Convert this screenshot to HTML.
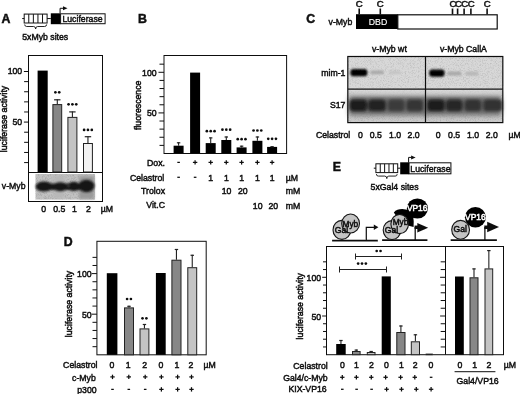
<!DOCTYPE html>
<html><head><meta charset="utf-8"><style>
html,body{margin:0;padding:0;background:#fff;}
svg{display:block;font-family:"Liberation Sans",sans-serif;}
</style></head><body>
<svg width="520" height="394" viewBox="0 0 520 394">
<defs>
<filter id="noise" x="0" y="0" width="100%" height="100%">
<feTurbulence type="fractalNoise" baseFrequency="1.6" numOctaves="1" seed="3" result="t"/>
<feColorMatrix in="t" type="matrix" values="0 0 0 0 0  0 0 0 0 0  0 0 0 0 0  0 0 0 -0.8 0.45" result="n"/>
<feComposite in="n" in2="SourceGraphic" operator="in" result="m"/>
<feMerge><feMergeNode in="SourceGraphic"/><feMergeNode in="m"/></feMerge>
</filter>
<filter id="noise2" x="0" y="0" width="100%" height="100%">
<feTurbulence type="fractalNoise" baseFrequency="1.4" numOctaves="1" seed="7" result="t"/>
<feColorMatrix in="t" type="matrix" values="0 0 0 0 0  0 0 0 0 0  0 0 0 0 0  0 0 0 -0.7 0.38" result="n"/>
<feComposite in="n" in2="SourceGraphic" operator="in" result="m"/>
<feMerge><feMergeNode in="SourceGraphic"/><feMergeNode in="m"/></feMerge>
</filter>
<filter id="soft" x="0" y="0" width="100%" height="100%" filterUnits="userSpaceOnUse"><feGaussianBlur stdDeviation="0.3"/></filter>
<filter id="blur08" x="-20%" y="-50%" width="140%" height="200%"><feGaussianBlur stdDeviation="0.8"/></filter>
<filter id="blur13" x="-20%" y="-50%" width="140%" height="200%"><feGaussianBlur stdDeviation="1.4"/></filter>
<filter id="blur1" x="-20%" y="-50%" width="140%" height="200%"><feGaussianBlur stdDeviation="1.2"/></filter>
<filter id="blur2" x="-20%" y="-50%" width="140%" height="200%"><feGaussianBlur stdDeviation="1.6"/></filter>
<filter id="blur3" x="-10%" y="-50%" width="120%" height="200%"><feGaussianBlur stdDeviation="2.5"/></filter>
</defs>
<rect width="520" height="394" fill="#fff"/>
<g filter="url(#soft)">
<text x="1.6" y="23.4" font-size="12.3" font-weight="bold" fill="#111" stroke="#111" stroke-width="0.5">A</text>
<line x1="22.2" y1="18.55" x2="50.8" y2="18.55" stroke="#111" stroke-width="1"/>
<rect x="24.2" y="14.1" width="22.900000000000002" height="8.9" fill="#fff" stroke="#111" stroke-width="1"/>
<line x1="28.78" y1="14.1" x2="28.78" y2="23.0" stroke="#111" stroke-width="1"/>
<line x1="33.36" y1="14.1" x2="33.36" y2="23.0" stroke="#111" stroke-width="1"/>
<line x1="37.94" y1="14.1" x2="37.94" y2="23.0" stroke="#111" stroke-width="1"/>
<line x1="42.519999999999996" y1="14.1" x2="42.519999999999996" y2="23.0" stroke="#111" stroke-width="1"/>
<rect x="50.8" y="13.3" width="9.800000000000004" height="10.899999999999999" fill="#000"/>
<rect x="60.6" y="13.8" width="44.49999999999999" height="9.899999999999999" fill="#fff" stroke="#111" stroke-width="1"/>
<path d="M60.1,13.3 V8.3 H63.5" fill="none" stroke="#111" stroke-width="1"/>
<path d="M63.0,6.300000000000001 L67.5,8.3 L63.0,10.3 Z" fill="#111"/>
<path d="M24.7,24.5 q0,2 2,2 H33.65 q2,0 2,2.5 q0,-2.5 2,-2.5 H44.6 q2,0 2,-2" fill="none" stroke="#111" stroke-width="0.9"/>
<text transform="translate(62.4,21.8) scale(0.91,1)" font-size="9.6" fill="#111" stroke="#111" stroke-width="0.5">Luciferase</text>
<text transform="translate(22.2,40.1) scale(0.91,1)" font-size="9.6" fill="#111" stroke="#111" stroke-width="0.5">5xMyb sites</text>
<rect x="28.5" y="55.5" width="74.0" height="146.0" fill="none" stroke="#111" stroke-width="1"/>
<line x1="28.5" y1="172.5" x2="102.5" y2="172.5" stroke="#111" stroke-width="1"/>
<line x1="24.1" y1="162.57999999999998" x2="28.5" y2="162.57999999999998" stroke="#111" stroke-width="1"/>
<line x1="24.1" y1="152.45999999999998" x2="28.5" y2="152.45999999999998" stroke="#111" stroke-width="1"/>
<line x1="24.1" y1="142.33999999999997" x2="28.5" y2="142.33999999999997" stroke="#111" stroke-width="1"/>
<line x1="24.1" y1="132.22" x2="28.5" y2="132.22" stroke="#111" stroke-width="1"/>
<line x1="23.9" y1="122.1" x2="28.5" y2="122.1" stroke="#111" stroke-width="1"/>
<line x1="24.1" y1="111.97999999999999" x2="28.5" y2="111.97999999999999" stroke="#111" stroke-width="1"/>
<line x1="24.1" y1="101.86" x2="28.5" y2="101.86" stroke="#111" stroke-width="1"/>
<line x1="24.1" y1="91.74" x2="28.5" y2="91.74" stroke="#111" stroke-width="1"/>
<line x1="24.1" y1="81.61999999999999" x2="28.5" y2="81.61999999999999" stroke="#111" stroke-width="1"/>
<line x1="23.9" y1="71.5" x2="28.5" y2="71.5" stroke="#111" stroke-width="1"/>
<text transform="translate(22.2,74.1) scale(0.91,1)" font-size="9.6" text-anchor="end" fill="#111" stroke="#111" stroke-width="0.5">100</text>
<text transform="translate(22.2,125.1) scale(0.91,1)" font-size="9.6" text-anchor="end" fill="#111" stroke="#111" stroke-width="0.5">50</text>
<text transform="translate(7.3,119) rotate(-90) scale(0.91,1)" text-anchor="middle" font-size="9.6" fill="#111" stroke="#111" stroke-width="0.5">luciferase activity</text>
<rect x="37.6" y="70.6" width="10.100000000000001" height="101.4" fill="#000"/>
<rect x="52.9" y="104.6" width="8.800000000000004" height="67.4" fill="#878787" stroke="#222" stroke-width="1"/>
<line x1="57.3" y1="104.1" x2="57.3" y2="99.3" stroke="#222" stroke-width="1.1"/>
<line x1="54.099999999999994" y1="99.8" x2="60.5" y2="99.8" stroke="#222" stroke-width="1.2"/>
<circle cx="55.38" cy="92.3" r="1.35" fill="#111"/>
<circle cx="59.22" cy="92.3" r="1.35" fill="#111"/>
<rect x="67.9" y="117.4" width="9.0" height="54.599999999999994" fill="#c4c4c4" stroke="#222" stroke-width="1"/>
<line x1="72.4" y1="116.9" x2="72.4" y2="111.4" stroke="#222" stroke-width="1.1"/>
<line x1="69.2" y1="111.9" x2="75.60000000000001" y2="111.9" stroke="#222" stroke-width="1.2"/>
<circle cx="68.55" cy="104.3" r="1.35" fill="#111"/>
<circle cx="72.40" cy="104.3" r="1.35" fill="#111"/>
<circle cx="76.25" cy="104.3" r="1.35" fill="#111"/>
<rect x="83.5" y="143.5" width="8.900000000000006" height="28.5" fill="#f2f2f2" stroke="#222" stroke-width="1"/>
<line x1="87.95" y1="143.0" x2="87.95" y2="136.2" stroke="#222" stroke-width="1.1"/>
<line x1="84.75" y1="136.7" x2="91.15" y2="136.7" stroke="#222" stroke-width="1.2"/>
<circle cx="84.10" cy="129.9" r="1.35" fill="#111"/>
<circle cx="87.95" cy="129.9" r="1.35" fill="#111"/>
<circle cx="91.80" cy="129.9" r="1.35" fill="#111"/>
<rect x="35.5" y="174.0" width="59.5" height="25.6" fill="#c2c2c2" filter="url(#noise)"/>
<g filter="url(#blur2)"><rect x="79" y="176" width="15" height="23" fill="#9a9a9a"/><rect x="54" y="176" width="10" height="22" fill="#b8b8b8"/></g>
<g filter="url(#blur08)"><rect x="37" y="183.4" width="56" height="6.6" rx="2" fill="#161616"/><ellipse cx="44" cy="186.6" rx="8.4" ry="5" fill="#161616"/><ellipse cx="60.2" cy="186.7" rx="7" ry="4.5" fill="#161616"/><ellipse cx="73.8" cy="186.4" rx="6.6" ry="4.6" fill="#161616"/><ellipse cx="86.5" cy="186.0" rx="8" ry="6.2" fill="#161616"/></g>
<ellipse cx="68.4" cy="186" rx="1.3" ry="1" fill="#555" filter="url(#blur08)"/>
<text transform="translate(1.8,188.6) scale(0.91,1)" font-size="9.6" fill="#111" stroke="#111" stroke-width="0.5">v-Myb</text>
<text transform="translate(43.7,212.2) scale(0.91,1)" font-size="9.6" text-anchor="middle" fill="#111" stroke="#111" stroke-width="0.5">0</text>
<text transform="translate(59.3,212.2) scale(0.91,1)" font-size="9.6" text-anchor="middle" fill="#111" stroke="#111" stroke-width="0.5">0.5</text>
<text transform="translate(74.5,212.2) scale(0.91,1)" font-size="9.6" text-anchor="middle" fill="#111" stroke="#111" stroke-width="0.5">1</text>
<text transform="translate(88.5,212.2) scale(0.91,1)" font-size="9.6" text-anchor="middle" fill="#111" stroke="#111" stroke-width="0.5">2</text>
<text transform="translate(100.8,212.2) scale(0.91,1)" font-size="9.6" fill="#111" stroke="#111" stroke-width="0.5">µM</text>
<text x="137.9" y="23.4" font-size="12.3" font-weight="bold" fill="#111" stroke="#111" stroke-width="0.5">B</text>
<rect x="164" y="55.5" width="122.6" height="98.0" fill="none" stroke="#111" stroke-width="1"/>
<line x1="159.5" y1="145.38" x2="164" y2="145.38" stroke="#111" stroke-width="1"/>
<line x1="159.5" y1="137.26" x2="164" y2="137.26" stroke="#111" stroke-width="1"/>
<line x1="159.5" y1="129.14" x2="164" y2="129.14" stroke="#111" stroke-width="1"/>
<line x1="159.5" y1="121.02000000000001" x2="164" y2="121.02000000000001" stroke="#111" stroke-width="1"/>
<line x1="158.5" y1="112.9" x2="164" y2="112.9" stroke="#111" stroke-width="1"/>
<line x1="159.5" y1="104.78" x2="164" y2="104.78" stroke="#111" stroke-width="1"/>
<line x1="159.5" y1="96.66" x2="164" y2="96.66" stroke="#111" stroke-width="1"/>
<line x1="159.5" y1="88.54" x2="164" y2="88.54" stroke="#111" stroke-width="1"/>
<line x1="159.5" y1="80.42" x2="164" y2="80.42" stroke="#111" stroke-width="1"/>
<line x1="158.5" y1="72.30000000000001" x2="164" y2="72.30000000000001" stroke="#111" stroke-width="1"/>
<line x1="159.5" y1="64.18" x2="164" y2="64.18" stroke="#111" stroke-width="1"/>
<text transform="translate(156.6,75.8) scale(0.91,1)" font-size="9.6" text-anchor="end" fill="#111" stroke="#111" stroke-width="0.5">100</text>
<text transform="translate(156.6,116.4) scale(0.91,1)" font-size="9.6" text-anchor="end" fill="#111" stroke="#111" stroke-width="0.5">50</text>
<text transform="translate(140.6,105.3) rotate(-90) scale(0.91,1)" text-anchor="middle" font-size="9.6" fill="#111" stroke="#111" stroke-width="0.5">fluorescence</text>
<rect x="173.6" y="145.7" width="10.0" height="7.800000000000011" fill="#000"/>
<line x1="178.6" y1="145.7" x2="178.6" y2="142.3" stroke="#222" stroke-width="1.1"/>
<line x1="176.9" y1="142.8" x2="180.29999999999998" y2="142.8" stroke="#222" stroke-width="1.2"/>
<rect x="190.1" y="72.6" width="10.0" height="80.9" fill="#000"/>
<rect x="205.7" y="143.1" width="10.0" height="10.400000000000006" fill="#000"/>
<line x1="210.7" y1="143.1" x2="210.7" y2="137.4" stroke="#222" stroke-width="1.1"/>
<line x1="209.0" y1="137.9" x2="212.39999999999998" y2="137.9" stroke="#222" stroke-width="1.2"/>
<circle cx="206.85" cy="131.2" r="1.35" fill="#111"/>
<circle cx="210.70" cy="131.2" r="1.35" fill="#111"/>
<circle cx="214.55" cy="131.2" r="1.35" fill="#111"/>
<rect x="221.3" y="140.0" width="10.0" height="13.5" fill="#000"/>
<line x1="226.3" y1="140.0" x2="226.3" y2="136.5" stroke="#222" stroke-width="1.1"/>
<line x1="224.60000000000002" y1="137.0" x2="228.0" y2="137.0" stroke="#222" stroke-width="1.2"/>
<circle cx="222.45" cy="129.7" r="1.35" fill="#111"/>
<circle cx="226.30" cy="129.7" r="1.35" fill="#111"/>
<circle cx="230.15" cy="129.7" r="1.35" fill="#111"/>
<rect x="236.6" y="147.4" width="10.0" height="6.099999999999994" fill="#000"/>
<line x1="241.6" y1="147.4" x2="241.6" y2="145.7" stroke="#222" stroke-width="1.1"/>
<line x1="239.9" y1="146.2" x2="243.29999999999998" y2="146.2" stroke="#222" stroke-width="1.2"/>
<circle cx="237.75" cy="139.2" r="1.35" fill="#111"/>
<circle cx="241.60" cy="139.2" r="1.35" fill="#111"/>
<circle cx="245.45" cy="139.2" r="1.35" fill="#111"/>
<rect x="252.39999999999998" y="140.8" width="10.0" height="12.699999999999989" fill="#000"/>
<line x1="257.4" y1="140.8" x2="257.4" y2="136.5" stroke="#222" stroke-width="1.1"/>
<line x1="255.7" y1="137.0" x2="259.09999999999997" y2="137.0" stroke="#222" stroke-width="1.2"/>
<circle cx="253.55" cy="130.5" r="1.35" fill="#111"/>
<circle cx="257.40" cy="130.5" r="1.35" fill="#111"/>
<circle cx="261.25" cy="130.5" r="1.35" fill="#111"/>
<rect x="267.1" y="146.9" width="10.0" height="6.599999999999994" fill="#000"/>
<line x1="272.1" y1="146.9" x2="272.1" y2="146.2" stroke="#222" stroke-width="1.1"/>
<line x1="270.40000000000003" y1="146.7" x2="273.8" y2="146.7" stroke="#222" stroke-width="1.2"/>
<circle cx="268.25" cy="138.8" r="1.35" fill="#111"/>
<circle cx="272.10" cy="138.8" r="1.35" fill="#111"/>
<circle cx="275.95" cy="138.8" r="1.35" fill="#111"/>
<text transform="translate(165,165.6) scale(0.91,1)" font-size="9.6" text-anchor="end" fill="#111" stroke="#111" stroke-width="0.5">Dox.</text>
<text transform="translate(164.3,180.6) scale(0.91,1)" font-size="9.6" text-anchor="end" fill="#111" stroke="#111" stroke-width="0.5">Celastrol</text>
<text transform="translate(165,193.8) scale(0.91,1)" font-size="9.6" text-anchor="end" fill="#111" stroke="#111" stroke-width="0.5">Trolox</text>
<text transform="translate(165,208.2) scale(0.91,1)" font-size="9.6" text-anchor="end" fill="#111" stroke="#111" stroke-width="0.5">Vit.C</text>
<line x1="177.29999999999998" y1="162.4" x2="179.9" y2="162.4" stroke="#111" stroke-width="1.25"/>
<line x1="192.9" y1="162.4" x2="197.29999999999998" y2="162.4" stroke="#111" stroke-width="1.25"/>
<line x1="195.1" y1="160.20000000000002" x2="195.1" y2="164.6" stroke="#111" stroke-width="1.25"/>
<line x1="208.5" y1="162.4" x2="212.89999999999998" y2="162.4" stroke="#111" stroke-width="1.25"/>
<line x1="210.7" y1="160.20000000000002" x2="210.7" y2="164.6" stroke="#111" stroke-width="1.25"/>
<line x1="224.10000000000002" y1="162.4" x2="228.5" y2="162.4" stroke="#111" stroke-width="1.25"/>
<line x1="226.3" y1="160.20000000000002" x2="226.3" y2="164.6" stroke="#111" stroke-width="1.25"/>
<line x1="239.4" y1="162.4" x2="243.79999999999998" y2="162.4" stroke="#111" stroke-width="1.25"/>
<line x1="241.6" y1="160.20000000000002" x2="241.6" y2="164.6" stroke="#111" stroke-width="1.25"/>
<line x1="255.2" y1="162.4" x2="259.59999999999997" y2="162.4" stroke="#111" stroke-width="1.25"/>
<line x1="257.4" y1="160.20000000000002" x2="257.4" y2="164.6" stroke="#111" stroke-width="1.25"/>
<line x1="269.90000000000003" y1="162.4" x2="274.3" y2="162.4" stroke="#111" stroke-width="1.25"/>
<line x1="272.1" y1="160.20000000000002" x2="272.1" y2="164.6" stroke="#111" stroke-width="1.25"/>
<line x1="177.29999999999998" y1="177.3" x2="179.9" y2="177.3" stroke="#111" stroke-width="1.25"/>
<line x1="193.79999999999998" y1="177.3" x2="196.4" y2="177.3" stroke="#111" stroke-width="1.25"/>
<text transform="translate(210.7,180.6) scale(0.91,1)" font-size="9.6" text-anchor="middle" fill="#111" stroke="#111" stroke-width="0.5">1</text>
<text transform="translate(226.3,180.6) scale(0.91,1)" font-size="9.6" text-anchor="middle" fill="#111" stroke="#111" stroke-width="0.5">1</text>
<text transform="translate(241.6,180.6) scale(0.91,1)" font-size="9.6" text-anchor="middle" fill="#111" stroke="#111" stroke-width="0.5">1</text>
<text transform="translate(257.4,180.6) scale(0.91,1)" font-size="9.6" text-anchor="middle" fill="#111" stroke="#111" stroke-width="0.5">1</text>
<text transform="translate(272.1,180.6) scale(0.91,1)" font-size="9.6" text-anchor="middle" fill="#111" stroke="#111" stroke-width="0.5">1</text>
<text transform="translate(285.7,180.6) scale(0.91,1)" font-size="9.6" fill="#111" stroke="#111" stroke-width="0.5">µM</text>
<text transform="translate(226.60000000000002,194.4) scale(0.91,1)" font-size="9.6" text-anchor="middle" fill="#111" stroke="#111" stroke-width="0.5">10</text>
<text transform="translate(242.79999999999998,194.4) scale(0.91,1)" font-size="9.6" text-anchor="middle" fill="#111" stroke="#111" stroke-width="0.5">20</text>
<text transform="translate(285.7,194.4) scale(0.91,1)" font-size="9.6" fill="#111" stroke="#111" stroke-width="0.5">mM</text>
<text transform="translate(257.7,208.8) scale(0.91,1)" font-size="9.6" text-anchor="middle" fill="#111" stroke="#111" stroke-width="0.5">10</text>
<text transform="translate(273.3,208.8) scale(0.91,1)" font-size="9.6" text-anchor="middle" fill="#111" stroke="#111" stroke-width="0.5">20</text>
<text transform="translate(285.7,208.8) scale(0.91,1)" font-size="9.6" fill="#111" stroke="#111" stroke-width="0.5">mM</text>
<text x="306.3" y="23.4" font-size="12.3" font-weight="bold" fill="#111" stroke="#111" stroke-width="0.5">C</text>
<text transform="translate(328.6,25.2) scale(0.91,1)" font-size="9.6" fill="#111" stroke="#111" stroke-width="0.5">v-Myb</text>
<rect x="356" y="14.2" width="42" height="14.8" fill="#000"/>
<rect x="397.8" y="14.8" width="99.4" height="14.2" fill="#fff" stroke="#111" stroke-width="1.2"/>
<text transform="translate(378,25.4) scale(0.91,1)" font-size="9.6" text-anchor="middle" fill="#fff" stroke="#fff" stroke-width="0.15">DBD</text>
<line x1="359.2" y1="8.5" x2="359.2" y2="14.4" stroke="#111" stroke-width="1.6"/>
<line x1="380.3" y1="8.5" x2="380.3" y2="14.4" stroke="#111" stroke-width="1.6"/>
<line x1="452.5" y1="8.5" x2="452.5" y2="14.4" stroke="#111" stroke-width="1.6"/>
<line x1="457.6" y1="8.5" x2="457.6" y2="14.4" stroke="#111" stroke-width="1.6"/>
<line x1="464.1" y1="8.5" x2="464.1" y2="14.4" stroke="#111" stroke-width="1.6"/>
<line x1="470.9" y1="8.5" x2="470.9" y2="14.4" stroke="#111" stroke-width="1.6"/>
<line x1="487.1" y1="8.5" x2="487.1" y2="14.4" stroke="#111" stroke-width="1.6"/>
<text x="359.2" y="6.8" font-size="9.6" text-anchor="middle" fill="#111" stroke="#111" stroke-width="0.5">C</text>
<text x="380.3" y="6.8" font-size="9.6" text-anchor="middle" fill="#111" stroke="#111" stroke-width="0.5">C</text>
<text x="452.9" y="6.8" font-size="9.6" text-anchor="middle" fill="#111" stroke="#111" stroke-width="0.5">C</text>
<text x="458.5" y="6.8" font-size="9.6" text-anchor="middle" fill="#111" stroke="#111" stroke-width="0.5">C</text>
<text x="464.8" y="6.8" font-size="9.6" text-anchor="middle" fill="#111" stroke="#111" stroke-width="0.5">C</text>
<text x="471.3" y="6.8" font-size="9.6" text-anchor="middle" fill="#111" stroke="#111" stroke-width="0.5">C</text>
<text x="487.1" y="6.8" font-size="9.6" text-anchor="middle" fill="#111" stroke="#111" stroke-width="0.5">C</text>
<text transform="translate(389.4,52.2) scale(0.91,1)" font-size="9.6" text-anchor="middle" fill="#111" stroke="#111" stroke-width="0.5">v-Myb wt</text>
<text transform="translate(463.4,51.5) scale(0.91,1)" font-size="9.6" text-anchor="middle" fill="#111" stroke="#111" stroke-width="0.5">v-Myb CallA</text>
<rect x="347.8" y="56.5" width="155" height="32.8" fill="#d8d8d8" filter="url(#noise2)"/>
<rect x="347.8" y="90.2" width="155" height="32.6" fill="#cbcbcb" filter="url(#noise2)"/>
<g filter="url(#blur1)"><rect x="350.4" y="68.9" width="17" height="7.4" rx="3" fill="#050505"/><rect x="370" y="70.6" width="14" height="3.6" rx="1.8" fill="#a8a8a8"/><rect x="389" y="71" width="12" height="3" rx="1.5" fill="#c2c2c2"/><rect x="429.2" y="69.6" width="15.4" height="7.2" rx="3" fill="#050505"/><rect x="447" y="71.6" width="14.6" height="4" rx="2" fill="#a8a8a8"/><rect x="465" y="71.8" width="13.6" height="3.6" rx="1.8" fill="#b6b6b6"/></g>
<g filter="url(#blur3)">
<rect x="349" y="95.5" width="152" height="20" fill="#6c6c6c"/>
<rect x="349" y="90.5" width="152" height="3.5" fill="#e2e2e2"/>
</g>
<g filter="url(#blur13)">
<rect x="349.5" y="99.6" width="17.6" height="11.6" rx="3.5" fill="#1c1c1c"/>
<rect x="368.2" y="99.6" width="17.6" height="11.6" rx="3.5" fill="#222"/>
<rect x="387.8" y="99.6" width="16.699999999999967" height="11.6" rx="3.5" fill="#3a3a3a"/>
<rect x="406.4" y="99.6" width="16.700000000000024" height="11.6" rx="3.5" fill="#363636"/>
<rect x="427.2" y="99.6" width="17.6" height="11.6" rx="3.5" fill="#1c1c1c"/>
<rect x="445.9" y="99.6" width="16.700000000000024" height="11.6" rx="3.5" fill="#262626"/>
<rect x="464.5" y="99.6" width="16.79999999999999" height="11.6" rx="3.5" fill="#333"/>
<rect x="483.2" y="99.6" width="19.1" height="11.6" rx="3.5" fill="#333"/>
</g>
<rect x="347.8" y="56.5" width="155" height="66.1" fill="none" stroke="#111" stroke-width="1.2"/>
<line x1="347.8" y1="89.2" x2="502.8" y2="89.2" stroke="#111" stroke-width="1.2"/>
<line x1="425.5" y1="56.5" x2="425.5" y2="122.6" stroke="#111" stroke-width="1.2"/>
<text transform="translate(345.4,76.0) scale(0.91,1)" font-size="9.6" text-anchor="end" fill="#111" stroke="#111" stroke-width="0.5">mim-1</text>
<text transform="translate(345.4,107.8) scale(0.91,1)" font-size="9.6" text-anchor="end" fill="#111" stroke="#111" stroke-width="0.5">S17</text>
<text transform="translate(315.9,137.5) scale(0.91,1)" font-size="9.6" fill="#111" stroke="#111" stroke-width="0.5">Celastrol</text>
<text transform="translate(360.3,137.5) scale(0.91,1)" font-size="9.6" text-anchor="middle" fill="#111" stroke="#111" stroke-width="0.5">0</text>
<text transform="translate(375.8,137.5) scale(0.91,1)" font-size="9.6" text-anchor="middle" fill="#111" stroke="#111" stroke-width="0.5">0.5</text>
<text transform="translate(395.1,137.5) scale(0.91,1)" font-size="9.6" text-anchor="middle" fill="#111" stroke="#111" stroke-width="0.5">1.0</text>
<text transform="translate(413.6,137.5) scale(0.91,1)" font-size="9.6" text-anchor="middle" fill="#111" stroke="#111" stroke-width="0.5">2.0</text>
<text transform="translate(438.2,137.5) scale(0.91,1)" font-size="9.6" text-anchor="middle" fill="#111" stroke="#111" stroke-width="0.5">0</text>
<text transform="translate(454.1,137.5) scale(0.91,1)" font-size="9.6" text-anchor="middle" fill="#111" stroke="#111" stroke-width="0.5">0.5</text>
<text transform="translate(473.1,137.5) scale(0.91,1)" font-size="9.6" text-anchor="middle" fill="#111" stroke="#111" stroke-width="0.5">1.0</text>
<text transform="translate(491.7,137.5) scale(0.91,1)" font-size="9.6" text-anchor="middle" fill="#111" stroke="#111" stroke-width="0.5">2.0</text>
<text transform="translate(508.4,137.5) scale(0.91,1)" font-size="9.6" fill="#111" stroke="#111" stroke-width="0.5">µM</text>
<text x="63.8" y="246.3" font-size="12.3" font-weight="bold" fill="#111" stroke="#111" stroke-width="0.5">D</text>
<rect x="96.9" y="241.3" width="109.3" height="113.5" fill="none" stroke="#111" stroke-width="1"/>
<line x1="92.5" y1="346.68" x2="96.9" y2="346.68" stroke="#111" stroke-width="1"/>
<line x1="92.5" y1="338.56" x2="96.9" y2="338.56" stroke="#111" stroke-width="1"/>
<line x1="92.5" y1="330.44" x2="96.9" y2="330.44" stroke="#111" stroke-width="1"/>
<line x1="92.5" y1="322.32" x2="96.9" y2="322.32" stroke="#111" stroke-width="1"/>
<line x1="91.7" y1="314.20000000000005" x2="96.9" y2="314.20000000000005" stroke="#111" stroke-width="1"/>
<line x1="92.5" y1="306.08000000000004" x2="96.9" y2="306.08000000000004" stroke="#111" stroke-width="1"/>
<line x1="92.5" y1="297.96000000000004" x2="96.9" y2="297.96000000000004" stroke="#111" stroke-width="1"/>
<line x1="92.5" y1="289.84000000000003" x2="96.9" y2="289.84000000000003" stroke="#111" stroke-width="1"/>
<line x1="92.5" y1="281.72" x2="96.9" y2="281.72" stroke="#111" stroke-width="1"/>
<line x1="91.7" y1="273.6" x2="96.9" y2="273.6" stroke="#111" stroke-width="1"/>
<line x1="92.5" y1="265.48" x2="96.9" y2="265.48" stroke="#111" stroke-width="1"/>
<line x1="92.5" y1="257.36" x2="96.9" y2="257.36" stroke="#111" stroke-width="1"/>
<text transform="translate(91.6,277.0) scale(0.91,1)" font-size="9.6" text-anchor="end" fill="#111" stroke="#111" stroke-width="0.5">100</text>
<text transform="translate(91.6,317.5) scale(0.91,1)" font-size="9.6" text-anchor="end" fill="#111" stroke="#111" stroke-width="0.5">50</text>
<text transform="translate(71.5,304) rotate(-90) scale(0.91,1)" text-anchor="middle" font-size="9.6" fill="#111" stroke="#111" stroke-width="0.5">luciferase activity</text>
<rect x="106.8" y="273.2" width="10.600000000000009" height="81.60000000000002" fill="#000"/>
<rect x="124.5" y="307.9" width="9.0" height="46.900000000000034" fill="#878787" stroke="#222" stroke-width="1"/>
<line x1="129.0" y1="307.4" x2="129.0" y2="305.8" stroke="#222" stroke-width="1.1"/>
<line x1="127.3" y1="306.3" x2="130.7" y2="306.3" stroke="#222" stroke-width="1.2"/>
<circle cx="127.08" cy="299.0" r="1.35" fill="#111"/>
<circle cx="130.93" cy="299.0" r="1.35" fill="#111"/>
<rect x="140.0" y="328.9" width="8.900000000000006" height="25.900000000000034" fill="#c4c4c4" stroke="#222" stroke-width="1"/>
<line x1="144.45" y1="328.4" x2="144.45" y2="324.0" stroke="#222" stroke-width="1.1"/>
<line x1="142.75" y1="324.5" x2="146.14999999999998" y2="324.5" stroke="#222" stroke-width="1.2"/>
<circle cx="142.52" cy="318.3" r="1.35" fill="#111"/>
<circle cx="146.38" cy="318.3" r="1.35" fill="#111"/>
<rect x="155.9" y="273.0" width="9.799999999999983" height="81.80000000000001" fill="#000"/>
<rect x="171.9" y="260.2" width="9.099999999999994" height="94.60000000000002" fill="#878787" stroke="#222" stroke-width="1"/>
<line x1="176.45" y1="259.7" x2="176.45" y2="249.0" stroke="#222" stroke-width="1.1"/>
<line x1="174.75" y1="249.5" x2="178.14999999999998" y2="249.5" stroke="#222" stroke-width="1.2"/>
<rect x="187.8" y="267.7" width="8.899999999999977" height="87.10000000000002" fill="#c4c4c4" stroke="#222" stroke-width="1"/>
<line x1="192.25" y1="267.2" x2="192.25" y2="254.8" stroke="#222" stroke-width="1.1"/>
<line x1="190.55" y1="255.3" x2="193.95" y2="255.3" stroke="#222" stroke-width="1.2"/>
<text transform="translate(97.5,368.3) scale(0.91,1)" font-size="9.6" text-anchor="end" fill="#111" stroke="#111" stroke-width="0.5">Celastrol</text>
<text transform="translate(95.8,380.8) scale(0.91,1)" font-size="9.6" text-anchor="end" fill="#111" stroke="#111" stroke-width="0.5">c-Myb</text>
<text transform="translate(96.6,393.0) scale(0.91,1)" font-size="9.6" text-anchor="end" fill="#111" stroke="#111" stroke-width="0.5">p300</text>
<text transform="translate(111.9,368.3) scale(0.91,1)" font-size="9.6" text-anchor="middle" fill="#111" stroke="#111" stroke-width="0.5">0</text>
<text transform="translate(128.2,368.3) scale(0.91,1)" font-size="9.6" text-anchor="middle" fill="#111" stroke="#111" stroke-width="0.5">1</text>
<text transform="translate(144.6,368.3) scale(0.91,1)" font-size="9.6" text-anchor="middle" fill="#111" stroke="#111" stroke-width="0.5">2</text>
<text transform="translate(160.8,368.3) scale(0.91,1)" font-size="9.6" text-anchor="middle" fill="#111" stroke="#111" stroke-width="0.5">0</text>
<text transform="translate(177.0,368.3) scale(0.91,1)" font-size="9.6" text-anchor="middle" fill="#111" stroke="#111" stroke-width="0.5">1</text>
<text transform="translate(190.9,368.3) scale(0.91,1)" font-size="9.6" text-anchor="middle" fill="#111" stroke="#111" stroke-width="0.5">2</text>
<line x1="110.3" y1="376.9" x2="114.7" y2="376.9" stroke="#111" stroke-width="1.25"/>
<line x1="112.5" y1="374.7" x2="112.5" y2="379.09999999999997" stroke="#111" stroke-width="1.25"/>
<line x1="126.59999999999998" y1="376.9" x2="130.99999999999997" y2="376.9" stroke="#111" stroke-width="1.25"/>
<line x1="128.79999999999998" y1="374.7" x2="128.79999999999998" y2="379.09999999999997" stroke="#111" stroke-width="1.25"/>
<line x1="143.0" y1="376.9" x2="147.39999999999998" y2="376.9" stroke="#111" stroke-width="1.25"/>
<line x1="145.2" y1="374.7" x2="145.2" y2="379.09999999999997" stroke="#111" stroke-width="1.25"/>
<line x1="159.20000000000002" y1="376.9" x2="163.6" y2="376.9" stroke="#111" stroke-width="1.25"/>
<line x1="161.4" y1="374.7" x2="161.4" y2="379.09999999999997" stroke="#111" stroke-width="1.25"/>
<line x1="175.4" y1="376.9" x2="179.79999999999998" y2="376.9" stroke="#111" stroke-width="1.25"/>
<line x1="177.6" y1="374.7" x2="177.6" y2="379.09999999999997" stroke="#111" stroke-width="1.25"/>
<line x1="189.3" y1="376.9" x2="193.7" y2="376.9" stroke="#111" stroke-width="1.25"/>
<line x1="191.5" y1="374.7" x2="191.5" y2="379.09999999999997" stroke="#111" stroke-width="1.25"/>
<line x1="111.2" y1="389.4" x2="113.8" y2="389.4" stroke="#111" stroke-width="1.25"/>
<line x1="127.49999999999999" y1="389.4" x2="130.1" y2="389.4" stroke="#111" stroke-width="1.25"/>
<line x1="143.89999999999998" y1="389.4" x2="146.5" y2="389.4" stroke="#111" stroke-width="1.25"/>
<line x1="159.20000000000002" y1="389.4" x2="163.6" y2="389.4" stroke="#111" stroke-width="1.25"/>
<line x1="161.4" y1="387.2" x2="161.4" y2="391.59999999999997" stroke="#111" stroke-width="1.25"/>
<line x1="175.4" y1="389.4" x2="179.79999999999998" y2="389.4" stroke="#111" stroke-width="1.25"/>
<line x1="177.6" y1="387.2" x2="177.6" y2="391.59999999999997" stroke="#111" stroke-width="1.25"/>
<line x1="189.3" y1="389.4" x2="193.7" y2="389.4" stroke="#111" stroke-width="1.25"/>
<line x1="191.5" y1="387.2" x2="191.5" y2="391.59999999999997" stroke="#111" stroke-width="1.25"/>
<text transform="translate(203.5,368.3) scale(0.91,1)" font-size="9.6" fill="#111" stroke="#111" stroke-width="0.5">µM</text>
<text x="332.8" y="170.8" font-size="12.3" font-weight="bold" fill="#111" stroke="#111" stroke-width="0.5">E</text>
<line x1="373.8" y1="168.2" x2="400.2" y2="168.2" stroke="#111" stroke-width="1"/>
<rect x="375.9" y="163.8" width="21.80000000000001" height="8.799999999999983" fill="#fff" stroke="#111" stroke-width="1"/>
<line x1="380.26" y1="163.8" x2="380.26" y2="172.6" stroke="#111" stroke-width="1"/>
<line x1="384.62" y1="163.8" x2="384.62" y2="172.6" stroke="#111" stroke-width="1"/>
<line x1="388.97999999999996" y1="163.8" x2="388.97999999999996" y2="172.6" stroke="#111" stroke-width="1"/>
<line x1="393.34" y1="163.8" x2="393.34" y2="172.6" stroke="#111" stroke-width="1"/>
<rect x="400.2" y="162.3" width="8.900000000000034" height="12.0" fill="#000"/>
<rect x="409.1" y="162.8" width="41.799999999999955" height="11.0" fill="#fff" stroke="#111" stroke-width="1"/>
<path d="M408.6,162.3 V157.4 H411.6" fill="none" stroke="#111" stroke-width="1"/>
<path d="M411.1,155.4 L415.6,157.4 L411.1,159.4 Z" fill="#111"/>
<path d="M376.4,174.1 q0,2 2,2 H384.79999999999995 q2,0 2,2.5 q0,-2.5 2,-2.5 H395.2 q2,0 2,-2" fill="none" stroke="#111" stroke-width="0.9"/>
<text transform="translate(410.3,171.8) scale(0.91,1)" font-size="9.6" fill="#111" stroke="#111" stroke-width="0.5">Luciferase</text>
<text transform="translate(370.6,190.2) scale(0.91,1)" font-size="9.6" fill="#111" stroke="#111" stroke-width="0.5">5xGal4 sites</text>
<line x1="332.1" y1="240.6" x2="377.8" y2="240.6" stroke="#111" stroke-width="1.8"/>
<path d="M366.3,240.6 V227.3 H374.5" fill="none" stroke="#111" stroke-width="1.2"/>
<path d="M373.8,224.6 L378.4,227.3 L373.8,230.0 Z" fill="#111"/>
<ellipse cx="341.9" cy="229.9" rx="8.9" ry="9.5" fill="#c4c4c4" stroke="#151515" stroke-width="1.1"/>
<ellipse cx="350.6" cy="223.5" rx="8.9" ry="9.5" fill="#c4c4c4" stroke="#151515" stroke-width="1.1"/>
<text x="341.5" y="233.4" font-size="8.6" text-anchor="middle" fill="#111" stroke="#111" stroke-width="0.5">Gal</text>
<text x="350.4" y="226.6" font-size="8.3" text-anchor="middle" fill="#111" stroke="#111" stroke-width="0.5">Myb</text>
<line x1="382.1" y1="240.2" x2="427.4" y2="240.2" stroke="#111" stroke-width="1.8"/>
<path d="M415.2,240 V227" fill="none" stroke="#111" stroke-width="1.3"/>
<path d="M414.6,225.6 H418.2 V229 H414.6 Z" fill="#111"/>
<path d="M417.3,223.0 L428.2,227.8 L417.3,232.6 Z" fill="#111"/>
<path d="M393.8,212.4 Q397.5,208.6 404,209.2 L409,210 Q414.8,215 413.6,227 L402,224 Z" fill="#000"/>
<ellipse cx="392.0" cy="230.1" rx="8.8" ry="9.5" fill="#c4c4c4" stroke="#151515" stroke-width="1.1"/>
<ellipse cx="399.7" cy="224.0" rx="8.8" ry="9.6" fill="#c4c4c4" stroke="#151515" stroke-width="1.1"/>
<ellipse cx="417.4" cy="208.5" rx="10.5" ry="10.1" fill="#000"/>
<text x="391.4" y="232.7" font-size="8.6" text-anchor="middle" fill="#111" stroke="#111" stroke-width="0.5">Gal</text>
<text x="400.5" y="225.4" font-size="8.3" text-anchor="middle" fill="#111" stroke="#111" stroke-width="0.5">Myb</text>
<text x="417.2" y="211.4" font-size="8.4" text-anchor="middle" fill="#fff" stroke="#fff" stroke-width="0.5">VP16</text>
<line x1="450.7" y1="240.2" x2="496.9" y2="240.2" stroke="#111" stroke-width="1.8"/>
<path d="M484.9,240 V227" fill="none" stroke="#111" stroke-width="1.3"/>
<path d="M484.3,225.5 H488 V229 H484.3 Z" fill="#111"/>
<path d="M487.2,221.8 L499,227.0 L487.2,232.2 Z" fill="#111"/>
<ellipse cx="475.4" cy="217.2" rx="10.5" ry="10.3" fill="#000"/>
<ellipse cx="460.6" cy="229.8" rx="8.9" ry="9.4" fill="#c4c4c4" stroke="#151515" stroke-width="1.1"/>
<text x="460.2" y="232.2" font-size="8.6" text-anchor="middle" fill="#111" stroke="#111" stroke-width="0.5">Gal</text>
<text x="475.3" y="220.2" font-size="8.4" text-anchor="middle" fill="#fff" stroke="#fff" stroke-width="0.5">VP16</text>
<rect x="326.5" y="246.5" width="177.0" height="108.2" fill="none" stroke="#111" stroke-width="1"/>
<line x1="445.5" y1="246.5" x2="445.5" y2="354.7" stroke="#111" stroke-width="1"/>
<line x1="323.0" y1="346.96" x2="327" y2="346.96" stroke="#111" stroke-width="1"/>
<line x1="323.0" y1="339.21999999999997" x2="327" y2="339.21999999999997" stroke="#111" stroke-width="1"/>
<line x1="323.0" y1="331.48" x2="327" y2="331.48" stroke="#111" stroke-width="1"/>
<line x1="323.0" y1="323.74" x2="327" y2="323.74" stroke="#111" stroke-width="1"/>
<line x1="322.2" y1="316.0" x2="327" y2="316.0" stroke="#111" stroke-width="1"/>
<line x1="323.0" y1="308.26" x2="327" y2="308.26" stroke="#111" stroke-width="1"/>
<line x1="323.0" y1="300.52" x2="327" y2="300.52" stroke="#111" stroke-width="1"/>
<line x1="323.0" y1="292.78" x2="327" y2="292.78" stroke="#111" stroke-width="1"/>
<line x1="323.0" y1="285.03999999999996" x2="327" y2="285.03999999999996" stroke="#111" stroke-width="1"/>
<line x1="322.2" y1="277.29999999999995" x2="327" y2="277.29999999999995" stroke="#111" stroke-width="1"/>
<line x1="323.0" y1="269.56" x2="327" y2="269.56" stroke="#111" stroke-width="1"/>
<line x1="323.0" y1="261.82" x2="327" y2="261.82" stroke="#111" stroke-width="1"/>
<line x1="440.7" y1="346.96" x2="445.3" y2="346.96" stroke="#111" stroke-width="1"/>
<line x1="440.7" y1="339.21999999999997" x2="445.3" y2="339.21999999999997" stroke="#111" stroke-width="1"/>
<line x1="440.7" y1="331.48" x2="445.3" y2="331.48" stroke="#111" stroke-width="1"/>
<line x1="440.7" y1="323.74" x2="445.3" y2="323.74" stroke="#111" stroke-width="1"/>
<line x1="440.1" y1="316.0" x2="445.3" y2="316.0" stroke="#111" stroke-width="1"/>
<line x1="440.7" y1="308.26" x2="445.3" y2="308.26" stroke="#111" stroke-width="1"/>
<line x1="440.7" y1="300.52" x2="445.3" y2="300.52" stroke="#111" stroke-width="1"/>
<line x1="440.7" y1="292.78" x2="445.3" y2="292.78" stroke="#111" stroke-width="1"/>
<line x1="440.7" y1="285.03999999999996" x2="445.3" y2="285.03999999999996" stroke="#111" stroke-width="1"/>
<line x1="440.1" y1="277.29999999999995" x2="445.3" y2="277.29999999999995" stroke="#111" stroke-width="1"/>
<line x1="440.7" y1="269.56" x2="445.3" y2="269.56" stroke="#111" stroke-width="1"/>
<line x1="440.7" y1="261.82" x2="445.3" y2="261.82" stroke="#111" stroke-width="1"/>
<text transform="translate(321.1,280.6) scale(0.91,1)" font-size="9.6" text-anchor="end" fill="#111" stroke="#111" stroke-width="0.5">100</text>
<text transform="translate(321.1,319.5) scale(0.91,1)" font-size="9.6" text-anchor="end" fill="#111" stroke="#111" stroke-width="0.5">50</text>
<text transform="translate(303.1,306.2) rotate(-90) scale(0.91,1)" text-anchor="middle" font-size="9.6" fill="#111" stroke="#111" stroke-width="0.5">luciferase activity</text>
<rect x="336.2" y="344.0" width="9.5" height="10.699999999999989" fill="#000"/>
<line x1="340.95" y1="344.0" x2="340.95" y2="340.0" stroke="#222" stroke-width="1.1"/>
<line x1="339.25" y1="340.5" x2="342.65" y2="340.5" stroke="#222" stroke-width="1.2"/>
<rect x="352.5" y="351.5" width="7.600000000000023" height="3.1999999999999886" fill="#878787" stroke="#222" stroke-width="1"/>
<line x1="356.3" y1="351.0" x2="356.3" y2="349.6" stroke="#222" stroke-width="1.1"/>
<line x1="354.6" y1="350.1" x2="358.0" y2="350.1" stroke="#222" stroke-width="1.2"/>
<rect x="367.3" y="352.5" width="7.699999999999989" height="2.1999999999999886" fill="#c4c4c4" stroke="#222" stroke-width="1"/>
<line x1="371.15" y1="352.0" x2="371.15" y2="351.0" stroke="#222" stroke-width="1.1"/>
<line x1="369.45" y1="351.5" x2="372.84999999999997" y2="351.5" stroke="#222" stroke-width="1.2"/>
<rect x="381.7" y="276.4" width="9.100000000000023" height="78.30000000000001" fill="#000"/>
<rect x="396.8" y="332.5" width="8.199999999999989" height="22.19999999999999" fill="#878787" stroke="#222" stroke-width="1"/>
<line x1="400.9" y1="332.0" x2="400.9" y2="325.5" stroke="#222" stroke-width="1.1"/>
<line x1="399.2" y1="326.0" x2="402.59999999999997" y2="326.0" stroke="#222" stroke-width="1.2"/>
<rect x="411.3" y="341.8" width="8.199999999999989" height="12.899999999999977" fill="#c4c4c4" stroke="#222" stroke-width="1"/>
<line x1="415.4" y1="341.3" x2="415.4" y2="334.3" stroke="#222" stroke-width="1.1"/>
<line x1="413.7" y1="334.8" x2="417.09999999999997" y2="334.8" stroke="#222" stroke-width="1.2"/>
<rect x="426.2" y="354.1" width="6.100000000000023" height="0.5999999999999659" fill="#f2f2f2" stroke="#222" stroke-width="1"/>
<rect x="455.0" y="276.5" width="8.800000000000011" height="78.19999999999999" fill="#000"/>
<rect x="470.0" y="277.8" width="8.0" height="76.89999999999998" fill="#878787" stroke="#222" stroke-width="1"/>
<line x1="474.0" y1="277.3" x2="474.0" y2="268.4" stroke="#222" stroke-width="1.1"/>
<line x1="472.3" y1="268.9" x2="475.7" y2="268.9" stroke="#222" stroke-width="1.2"/>
<rect x="485.0" y="268.9" width="7.699999999999989" height="85.80000000000001" fill="#c4c4c4" stroke="#222" stroke-width="1"/>
<line x1="488.85" y1="268.4" x2="488.85" y2="250.1" stroke="#222" stroke-width="1.1"/>
<line x1="487.15000000000003" y1="250.6" x2="490.55" y2="250.6" stroke="#222" stroke-width="1.2"/>
<line x1="339.5" y1="269.5" x2="386.5" y2="269.5" stroke="#222" stroke-width="1"/>
<line x1="339.5" y1="266.5" x2="339.5" y2="272.5" stroke="#222" stroke-width="1"/>
<line x1="386.5" y1="266.5" x2="386.5" y2="272.5" stroke="#222" stroke-width="1"/>
<circle cx="358.15" cy="263.6" r="1.35" fill="#111"/>
<circle cx="362.00" cy="263.6" r="1.35" fill="#111"/>
<circle cx="365.85" cy="263.6" r="1.35" fill="#111"/>
<line x1="355.5" y1="256.5" x2="401.5" y2="256.5" stroke="#222" stroke-width="1"/>
<line x1="355.5" y1="253.5" x2="355.5" y2="259.5" stroke="#222" stroke-width="1"/>
<line x1="401.5" y1="253.5" x2="401.5" y2="259.5" stroke="#222" stroke-width="1"/>
<circle cx="376.68" cy="251.0" r="1.35" fill="#111"/>
<circle cx="380.53" cy="251.0" r="1.35" fill="#111"/>
<text transform="translate(327.7,368.5) scale(0.91,1)" font-size="9.6" text-anchor="end" fill="#111" stroke="#111" stroke-width="0.5">Celastrol</text>
<text transform="translate(327.7,380.8) scale(0.91,1)" font-size="9.6" text-anchor="end" fill="#111" stroke="#111" stroke-width="0.5">Gal4/c-Myb</text>
<text transform="translate(326.7,392.3) scale(0.91,1)" font-size="9.6" text-anchor="end" fill="#111" stroke="#111" stroke-width="0.5">KIX-VP16</text>
<text transform="translate(342.4,368.2) scale(0.91,1)" font-size="9.6" text-anchor="middle" fill="#111" stroke="#111" stroke-width="0.5">0</text>
<text transform="translate(356.4,368.2) scale(0.91,1)" font-size="9.6" text-anchor="middle" fill="#111" stroke="#111" stroke-width="0.5">1</text>
<text transform="translate(371.3,368.2) scale(0.91,1)" font-size="9.6" text-anchor="middle" fill="#111" stroke="#111" stroke-width="0.5">2</text>
<text transform="translate(386.3,368.2) scale(0.91,1)" font-size="9.6" text-anchor="middle" fill="#111" stroke="#111" stroke-width="0.5">0</text>
<text transform="translate(401.3,368.2) scale(0.91,1)" font-size="9.6" text-anchor="middle" fill="#111" stroke="#111" stroke-width="0.5">1</text>
<text transform="translate(415.2,368.2) scale(0.91,1)" font-size="9.6" text-anchor="middle" fill="#111" stroke="#111" stroke-width="0.5">2</text>
<text transform="translate(430.8,368.2) scale(0.91,1)" font-size="9.6" text-anchor="middle" fill="#111" stroke="#111" stroke-width="0.5">0</text>
<line x1="340.1" y1="377.3" x2="344.5" y2="377.3" stroke="#111" stroke-width="1.25"/>
<line x1="342.3" y1="375.1" x2="342.3" y2="379.5" stroke="#111" stroke-width="1.25"/>
<line x1="354.2" y1="377.3" x2="358.59999999999997" y2="377.3" stroke="#111" stroke-width="1.25"/>
<line x1="356.4" y1="375.1" x2="356.4" y2="379.5" stroke="#111" stroke-width="1.25"/>
<line x1="369.1" y1="377.3" x2="373.5" y2="377.3" stroke="#111" stroke-width="1.25"/>
<line x1="371.3" y1="375.1" x2="371.3" y2="379.5" stroke="#111" stroke-width="1.25"/>
<line x1="383.40000000000003" y1="377.3" x2="387.8" y2="377.3" stroke="#111" stroke-width="1.25"/>
<line x1="385.6" y1="375.1" x2="385.6" y2="379.5" stroke="#111" stroke-width="1.25"/>
<line x1="398.40000000000003" y1="377.3" x2="402.8" y2="377.3" stroke="#111" stroke-width="1.25"/>
<line x1="400.6" y1="375.1" x2="400.6" y2="379.5" stroke="#111" stroke-width="1.25"/>
<line x1="412.6" y1="377.3" x2="417.0" y2="377.3" stroke="#111" stroke-width="1.25"/>
<line x1="414.8" y1="375.1" x2="414.8" y2="379.5" stroke="#111" stroke-width="1.25"/>
<line x1="429.8" y1="377.3" x2="432.40000000000003" y2="377.3" stroke="#111" stroke-width="1.25"/>
<line x1="341.0" y1="389.3" x2="343.6" y2="389.3" stroke="#111" stroke-width="1.25"/>
<line x1="355.3" y1="389.3" x2="357.90000000000003" y2="389.3" stroke="#111" stroke-width="1.25"/>
<line x1="370.3" y1="389.3" x2="372.90000000000003" y2="389.3" stroke="#111" stroke-width="1.25"/>
<line x1="384.40000000000003" y1="389.3" x2="388.8" y2="389.3" stroke="#111" stroke-width="1.25"/>
<line x1="386.6" y1="387.1" x2="386.6" y2="391.5" stroke="#111" stroke-width="1.25"/>
<line x1="399.3" y1="389.3" x2="403.7" y2="389.3" stroke="#111" stroke-width="1.25"/>
<line x1="401.5" y1="387.1" x2="401.5" y2="391.5" stroke="#111" stroke-width="1.25"/>
<line x1="414.1" y1="389.3" x2="418.5" y2="389.3" stroke="#111" stroke-width="1.25"/>
<line x1="416.3" y1="387.1" x2="416.3" y2="391.5" stroke="#111" stroke-width="1.25"/>
<line x1="428.90000000000003" y1="389.3" x2="433.3" y2="389.3" stroke="#111" stroke-width="1.25"/>
<line x1="431.1" y1="387.1" x2="431.1" y2="391.5" stroke="#111" stroke-width="1.25"/>
<text transform="translate(459.9,368.2) scale(0.91,1)" font-size="9.6" text-anchor="middle" fill="#111" stroke="#111" stroke-width="0.5">0</text>
<text transform="translate(474.6,368.2) scale(0.91,1)" font-size="9.6" text-anchor="middle" fill="#111" stroke="#111" stroke-width="0.5">1</text>
<text transform="translate(488.9,368.2) scale(0.91,1)" font-size="9.6" text-anchor="middle" fill="#111" stroke="#111" stroke-width="0.5">2</text>
<text transform="translate(503.7,368.2) scale(0.91,1)" font-size="9.6" fill="#111" stroke="#111" stroke-width="0.5">µM</text>
<line x1="454.6" y1="371.7" x2="495.4" y2="371.7" stroke="#111" stroke-width="1"/>
<text transform="translate(456.5,383.8) scale(0.91,1)" font-size="9.6" fill="#111" stroke="#111" stroke-width="0.5">Gal4/VP16</text>
</g>
</svg>
</body></html>
